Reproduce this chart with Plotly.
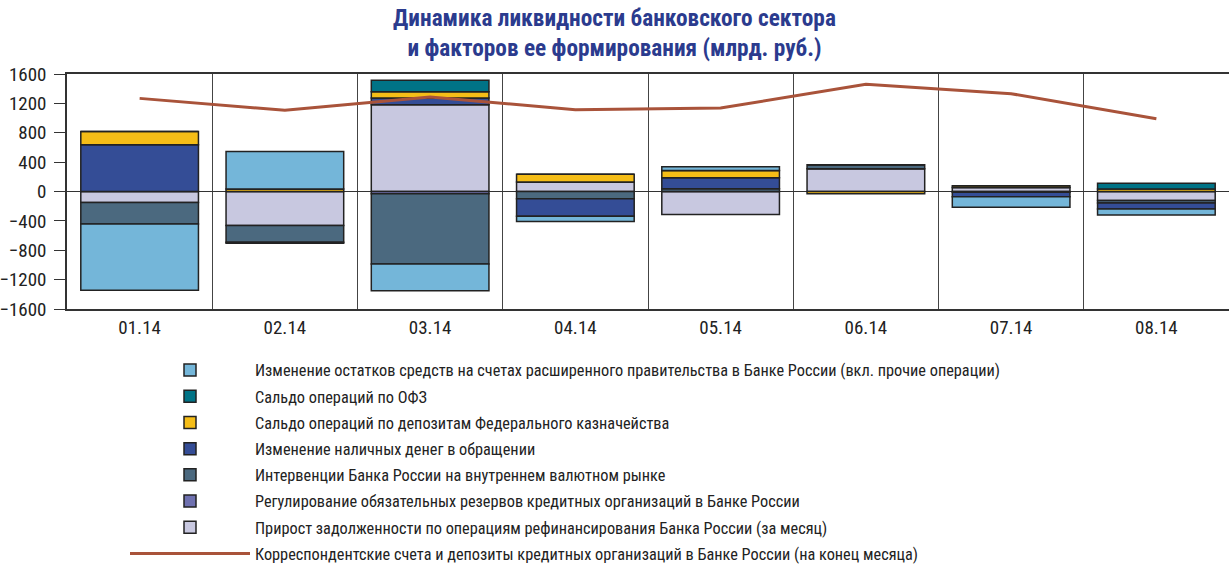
import plotly.graph_objects as go

months = ["01.14", "02.14", "03.14", "04.14", "05.14", "06.14", "07.14", "08.14"]

gov = [-905, 510, -364, -73, 50, 0, -144, -82]
ofz = [0, 0, 155, 0, 0, 0, 0, 77]
treasury = [182, 35, 86, 105, 100, -30, 25, 35]
cash = [636, -15, 91, -236, 150, 0, -60, -82]
interventions = [-291, -227, -955, -100, 36, 55, -10, -32]
reserves = [0, 0, -32, 0, 0, 0, 0, 0]
refinancing = [-150, -464, 1182, 130, -314, 309, 55, -123]
corr_accounts = [1268, 1105, 1286, 1114, 1137, 1459, 1332, 991]

names = {
    "gov": "Изменение остатков средств на счетах расширенного правительства в Банке России (вкл. прочие операции)",
    "ofz": "Сальдо операций по ОФЗ",
    "treasury": "Сальдо операций по депозитам Федерального казначейства",
    "cash": "Изменение наличных денег в обращении",
    "interventions": "Интервенции Банка России на внутреннем валютном рынке",
    "reserves": "Регулирование обязательных резервов кредитных организаций в Банке России",
    "refinancing": "Прирост задолженности по операциям рефинансирования Банка России (за месяц)",
    "corr": "Корреспондентские счета и депозиты кредитных организаций в Банке России (на конец месяца)",
}
colors = {
    "gov": "#74b6d9",
    "ofz": "#007386",
    "treasury": "#f5bd17",
    "cash": "#344d96",
    "interventions": "#4b697f",
    "reserves": "#6f71b0",
    "refinancing": "#c8c8e0",
    "corr": "#a9533a",
}

FONT = "Liberation Sans Narrow, Roboto Condensed, DejaVu Sans Condensed, Arial Narrow, sans-serif"

fig = go.Figure()
# stacking order (closest to zero first)
stack = [
    ("refinancing", refinancing, 7),
    ("reserves", reserves, 6),
    ("interventions", interventions, 5),
    ("cash", cash, 4),
    ("treasury", treasury, 3),
    ("ofz", ofz, 2),
    ("gov", gov, 1),
]
for key, vals, rank in stack:
    fig.add_trace(go.Bar(
        x=months, y=vals, name=names[key], legendrank=rank, legendgroup=key,
        marker=dict(color=colors[key], line=dict(color="#222222", width=1.5)),
    ))

fig.add_trace(go.Scatter(
    x=months, y=corr_accounts, name=names["corr"], legendrank=8, legendgroup="corr",
    mode="lines", line=dict(color=colors["corr"], width=3),
))

L, T, PW, PH = 67, 74, 1162, 235

fig.update_layout(
    width=1229, height=567,
    margin=dict(l=L, r=0, t=T, b=567 - T - PH, autoexpand=False),
    barmode="relative", bargap=0.19,
    plot_bgcolor="white", paper_bgcolor="white",
    font=dict(family=FONT, size=16, color="#222222"),
    title=dict(
        text="Динамика ликвидности банковского сектора<br>и факторов ее формирования (млрд. руб.)",
        x=0.5, xanchor="center", xref="container",
        y=1 - 26 / 567, yanchor="middle", yref="container",
        font=dict(family=FONT, size=23.3, color="#2b3b8e", weight="bold"),
    ),
    legend=dict(
        x=(125 - L) / PW, y=(T + PH - 353) / PH, xref="paper", yref="paper",
        xanchor="left", yanchor="top",
        font=dict(family=FONT, size=16.3, color="#222222"),
        itemwidth=120, bgcolor="rgba(0,0,0,0)",
        traceorder="grouped", tracegroupgap=2,
    ),
    showlegend=True,
)

fig.update_xaxes(
    type="category", tickson="boundaries", showgrid=True,
    gridcolor="#444444", gridwidth=1, ticks="", ticklen=0, tickangle=0,
    showline=True, mirror=True, linecolor="#333333", linewidth=1.5,
    tickfont=dict(size=19), ticklabelstandoff=0,
)
fig.update_yaxes(
    range=[-1600, 1600], dtick=400, tick0=0,
    showgrid=False, zeroline=True, zerolinecolor="#333333", zerolinewidth=1,
    showline=True, linecolor="#333333", linewidth=1.5,
    ticks="outside", ticklen=11, tickcolor="#333333",
    tickfont=dict(size=19), ticklabelstandoff=4,
)

fig.write_html(
    "out.html",
    config={"displayModeBar": False},
    post_script="document.body.style.margin='0';document.body.style.overflow='hidden';",
)
